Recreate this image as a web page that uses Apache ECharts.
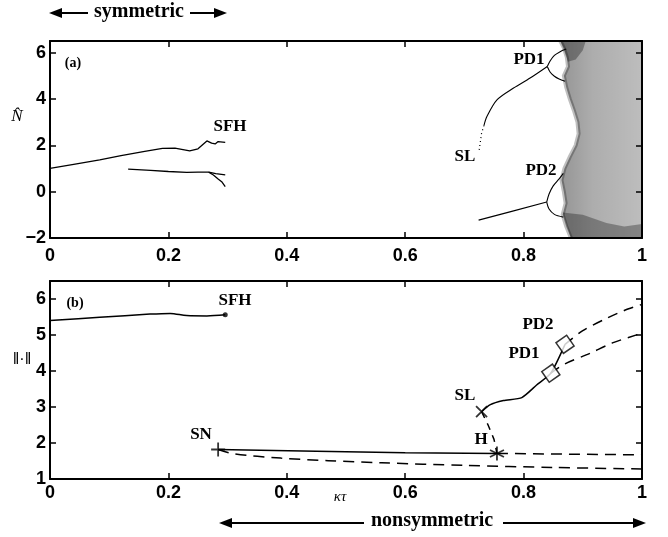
<!DOCTYPE html>
<html>
<head>
<meta charset="utf-8">
<script src="https://cdn.jsdelivr.net/npm/echarts@6/dist/echarts.min.js"></script>
<style>
html, body { margin: 0; padding: 0; background: #fff; }
#chart { width: 668px; height: 537px; }
</style>
</head>
<body>
<div id="chart"></div>
<script>
// ---- panel (a): N-hat vs kappa*tau ----
const symUpperX = [0, 0.04, 0.084, 0.12, 0.16, 0.19, 0.211, 0.236, 0.25, 0.265, 0.273, 0.279, 0.284, 0.287, 0.296]
const symUpperY = [1.0, 1.18, 1.37, 1.55, 1.74, 1.87, 1.88, 1.76, 1.85, 2.19, 2.09, 2.06, 2.16, 2.09, 2.13]
const symLowerX = [0.132, 0.17, 0.2, 0.231, 0.25, 0.268, 0.28, 0.296]
const symLowerY = [0.97, 0.92, 0.87, 0.83, 0.84, 0.84, 0.78, 0.72]
const symBranchX = [0.268, 0.276, 0.284, 0.29, 0.296]
const symBranchY = [0.84, 0.72, 0.55, 0.43, 0.22]

const slDotX = [0.725, 0.729, 0.733]
const slDotY = [1.80, 2.52, 2.85]
const slUpX = [0.733, 0.738, 0.755, 0.783, 0.811, 0.84]
const slUpY = [2.85, 3.24, 3.96, 4.47, 4.90, 5.40]
const pd1UpX = [0.84, 0.845, 0.852, 0.861, 0.872]
const pd1UpY = [5.40, 5.65, 5.88, 6.03, 6.15]
const pd1LoX = [0.84, 0.845, 0.852, 0.86, 0.87]
const pd1LoY = [5.40, 5.15, 4.98, 4.86, 4.76]
const slLoX = [0.724, 0.78, 0.839]
const slLoY = [-1.23, -0.85, -0.45]
const pd2UpX = [0.839, 0.843, 0.85, 0.86, 0.867]
const pd2UpY = [-0.45, -0.1, 0.25, 0.55, 0.79]
const pd2LoX = [0.839, 0.843, 0.852, 0.867]
const pd2LoY = [-0.45, -0.75, -0.98, -1.1]

// chaotic region: left boundary and denser patches
const chaosEdgeY = [6.5, 6.2, 5.8, 5.4, 5.0, 4.5, 4.0, 3.5, 3.0, 2.5, 2.0, 1.5, 1.0, 0.5, 0.0, -0.5, -1.0, -1.5, -2.0]
const chaosEdgeX = [0.862, 0.868, 0.873, 0.875, 0.868, 0.872, 0.878, 0.885, 0.891, 0.893, 0.888, 0.878, 0.869, 0.864, 0.868, 0.871, 0.866, 0.872, 0.88]
const topBlobX = [0.862, 0.905, 0.9, 0.888, 0.875, 0.868]
const topBlobY = [6.5, 6.5, 6.1, 5.7, 5.6, 6.1]
const botBandX = [0.866, 0.9, 0.94, 0.97, 1.0, 1.0, 0.88]
const botBandY = [-0.9, -1.0, -1.35, -1.5, -1.4, -2.0, -2.0]

// ---- panel (b): norm vs kappa*tau ----
const sfhX = [0, 0.084, 0.169, 0.203, 0.231, 0.265, 0.296]
const sfhY = [5.40, 5.49, 5.58, 5.60, 5.54, 5.53, 5.56]
const snSolidX = [0.284, 0.45, 0.6, 0.755]
const snSolidY = [1.82, 1.77, 1.73, 1.71]
const hDashX = [0.755, 1.0]
const hDashY = [1.71, 1.67]
const snDashX = [0.284, 0.31, 0.39, 0.47, 0.56, 0.7, 0.85, 1.0]
const snDashY = [1.82, 1.70, 1.58, 1.51, 1.45, 1.38, 1.32, 1.28]
const slDashX = [0.729, 0.74, 0.75, 0.755]
const slDashY = [2.87, 2.5, 2.1, 1.71]
const slSolidX = [0.729, 0.743, 0.766, 0.797, 0.822, 0.846, 0.87]
const slSolidY = [2.87, 3.06, 3.18, 3.26, 3.61, 3.94, 4.74]
const pd2DashX = [0.87, 0.9, 0.94, 0.97, 1.0]
const pd2DashY = [4.74, 5.12, 5.46, 5.68, 5.85]
const pd1DashX = [0.846, 0.87, 0.912, 0.95, 1.0]
const pd1DashY = [3.94, 4.2, 4.49, 4.78, 5.05]

const sfhPoint = [0.296, 5.56]
const snPoint = [0.284, 1.82]
const slPoint = [0.729, 2.87]
const hPoint = [0.755, 1.71]
const pdPoints = [[0.846, 3.94], [0.87, 4.74]]

const xTicks = { min: 0, max: 1, interval: 0.2 }

const xy = (xs, ys) => xs.map((x, i) => [x, ys[i]])

const frameLine = { show: true, onZero: false, lineStyle: { color: '#000', width: 2 } }
const tickIn = { show: true, inside: true, length: 6, lineStyle: { color: '#000', width: 1.5 } }
const labelFont = { color: '#000', fontFamily: '"Liberation Sans", Arial, sans-serif', fontWeight: 'bold', fontSize: 18 }
const yFmt = v => (Number.isInteger(v) ? (v < 0 ? '\u2212' + Math.abs(v) : String(v)) : '')

const xAxisPair = (g, margin) => [
  { gridIndex: g, type: 'value', ...xTicks, axisLine: frameLine, axisTick: tickIn, splitLine: { show: false },
    axisLabel: { ...labelFont, margin } },
  { gridIndex: g, type: 'value', position: 'top', ...xTicks, axisLine: frameLine, axisTick: tickIn,
    splitLine: { show: false }, axisLabel: { show: false } }
]
const yAxisPair = (g, min, max, interval) => [
  { gridIndex: g, type: 'value', min, max, interval, axisLine: frameLine, axisTick: tickIn, splitLine: { show: false },
    axisLabel: { ...labelFont, margin: 4, formatter: yFmt, showMaxLabel: false } },
  { gridIndex: g, type: 'value', position: 'right', min, max, interval, axisLine: frameLine, axisTick: tickIn,
    splitLine: { show: false }, axisLabel: { show: false } }
]

const line = (ax, xs, ys, opts = {}) => ({
  type: 'line', xAxisIndex: ax, yAxisIndex: ax, data: xy(xs, ys), showSymbol: false, silent: true,
  smooth: opts.smooth || 0, z: 3,
  lineStyle: { color: '#000', width: opts.width || 1.5, type: opts.type || 'solid' }
})

// chaotic scatter shown as shaded area, darker toward the left boundary
const chaosFill = new echarts.graphic.LinearGradient(0, 0, 1, 0, [
  { offset: 0, color: 'rgba(0,0,0,0.42)' },
  { offset: 0.4, color: 'rgba(0,0,0,0.32)' },
  { offset: 1, color: 'rgba(0,0,0,0.26)' }
])
const poly = (xs, ys, fill, closeRight) => ({
  type: 'custom', xAxisIndex: 0, yAxisIndex: 0, silent: true, data: [[0.95, 2]], z: 1,
  renderItem: (params, api) => {
    const pts = xs.map((x, i) => api.coord([x, ys[i]]))
    if (closeRight) { pts.push(api.coord([1, -2])); pts.push(api.coord([1, 6.5])) }
    return { type: 'polygon', shape: { points: pts }, style: { fill } }
  }
})
const edge = (xs, ys, stroke, w) => ({
  type: 'custom', xAxisIndex: 0, yAxisIndex: 0, silent: true, data: [[0.95, 2]], z: 2,
  renderItem: (params, api) => ({
    type: 'polyline', shape: { points: xs.map((x, i) => api.coord([x, ys[i]])) },
    style: { stroke, lineWidth: w, fill: null }
  })
})

const marker = (pt, symbol, size, style, rotate) => ({
  type: 'scatter', xAxisIndex: 2, yAxisIndex: 2, data: [pt], symbol, symbolSize: size, silent: true, z: 5,
  symbolRotate: rotate || 0, itemStyle: style
})
const strokeOnly = { color: 'none', borderColor: '#000', borderWidth: 1.8 }

const serifBold = 'bold 17px "Liberation Serif", "Times New Roman", serif'
const txt = (x, y, text, font) => ({
  type: 'text', x, y,
  style: { text, fill: '#000', font: font || serifBold, align: 'center', verticalAlign: 'middle',
    textAlign: 'center', textVerticalAlign: 'middle' }
})
const hline = (x1, x2, y) => ({ type: 'line', shape: { x1, y1: y, x2, y2: y }, style: { stroke: '#000', lineWidth: 2 } })
const head = (x, y, dir) => ({ type: 'polygon', shape: { points: [[x, y], [x - dir * 13, y - 5], [x - dir * 13, y + 5]] }, style: { fill: '#000' } })

const option = {
  animation: false,
  backgroundColor: '#fff',
  grid: [
    { left: 50, right: 26, top: 41, height: 197 },
    { left: 50, right: 26, top: 281, height: 198 }
  ],
  xAxis: [...xAxisPair(0, 9), ...xAxisPair(1, 5)],
  yAxis: [...yAxisPair(0, -2, 6.5, 2), ...yAxisPair(1, 1, 6.5, 1)],
  series: [
    poly(chaosEdgeX, chaosEdgeY, chaosFill, true),
    poly(topBlobX, topBlobY, 'rgba(0,0,0,0.3)'),
    poly(botBandX, botBandY, 'rgba(0,0,0,0.3)'),
    edge(chaosEdgeX, chaosEdgeY, 'rgba(0,0,0,0.25)', 4),
    line(0, symUpperX, symUpperY, { width: 1.3 }),
    line(0, symLowerX, symLowerY, { width: 1.3 }),
    line(0, symBranchX, symBranchY, { width: 1.3 }),
    line(0, slDotX, slDotY, { width: 1.2, type: [1, 3] }),
    line(0, slUpX, slUpY, { width: 1.1, smooth: 0.3 }),
    line(0, pd1UpX, pd1UpY, { width: 1.1, smooth: 0.3 }),
    line(0, pd1LoX, pd1LoY, { width: 1.1, smooth: 0.3 }),
    line(0, slLoX, slLoY, { width: 1.1 }),
    line(0, pd2UpX, pd2UpY, { width: 1.1, smooth: 0.3 }),
    line(0, pd2LoX, pd2LoY, { width: 1.1, smooth: 0.3 }),

    line(2, sfhX, sfhY, { smooth: 0.3 }),
    line(2, snSolidX, snSolidY),
    line(2, hDashX, hDashY, { type: [11, 7] }),
    line(2, snDashX, snDashY, { type: [11, 7], smooth: 0.3 }),
    line(2, slDashX, slDashY, { type: [7, 6] }),
    line(2, slSolidX, slSolidY, { smooth: 0.2 }),
    line(2, pd2DashX, pd2DashY, { type: [10, 7], smooth: 0.3 }),
    line(2, pd1DashX, pd1DashY, { type: [10, 7], smooth: 0.3 }),
    marker(sfhPoint, 'circle', 5, { color: '#000' }),
    marker(snPoint, 'path://M0,5H10M5,0V10', 14, strokeOnly),
    marker(slPoint, 'path://M0,0L10,10M0,10L10,0', 11, strokeOnly),
    marker(hPoint, 'path://M5,0V10M0.7,2.5L9.3,7.5M0.7,7.5L9.3,2.5', 14, strokeOnly),
    { type: 'scatter', xAxisIndex: 2, yAxisIndex: 2, data: pdPoints, symbol: 'rect', symbolSize: 13,
      symbolRotate: 35, silent: true, z: 5, itemStyle: { color: '#fff', borderColor: '#000', borderWidth: 1.5 } }
  ],
  graphic: [
    hline(54, 88, 13), head(49, 13, -1),
    txt(139, 12, 'symmetric', 'bold 20px "Liberation Serif", serif'),
    hline(190, 222, 13), head(227, 13, 1),
    hline(225, 364, 523), head(219, 523, -1),
    txt(432, 521, 'nonsymmetric', 'bold 20px "Liberation Serif", serif'),
    hline(503, 640, 523), head(646, 523, 1),
    txt(17, 117, 'N\u0302', 'italic 17px "Liberation Serif", serif'),
    txt(22, 360, '\u2016\u00b7\u2016', '16px "Liberation Sans", sans-serif'),
    txt(340, 497, '\u03ba\u03c4', 'italic 15px "Liberation Serif", serif'),
    txt(73, 63, '(a)', 'bold 14px "Liberation Serif", serif'),
    txt(75, 303, '(b)', 'bold 14px "Liberation Serif", serif'),
    txt(230, 127, 'SFH'), txt(529, 60, 'PD1'), txt(465, 157, 'SL'), txt(541, 171, 'PD2'),
    txt(235, 301, 'SFH'), txt(201, 435, 'SN'), txt(465, 396, 'SL'), txt(481, 440, 'H'),
    txt(524, 354, 'PD1'), txt(538, 325, 'PD2')
  ]
}

const chart = echarts.init(document.getElementById('chart'), null, { renderer: 'canvas' })
chart.setOption(option)
window.addEventListener('resize', () => chart.resize())
</script>
</body>
</html>
